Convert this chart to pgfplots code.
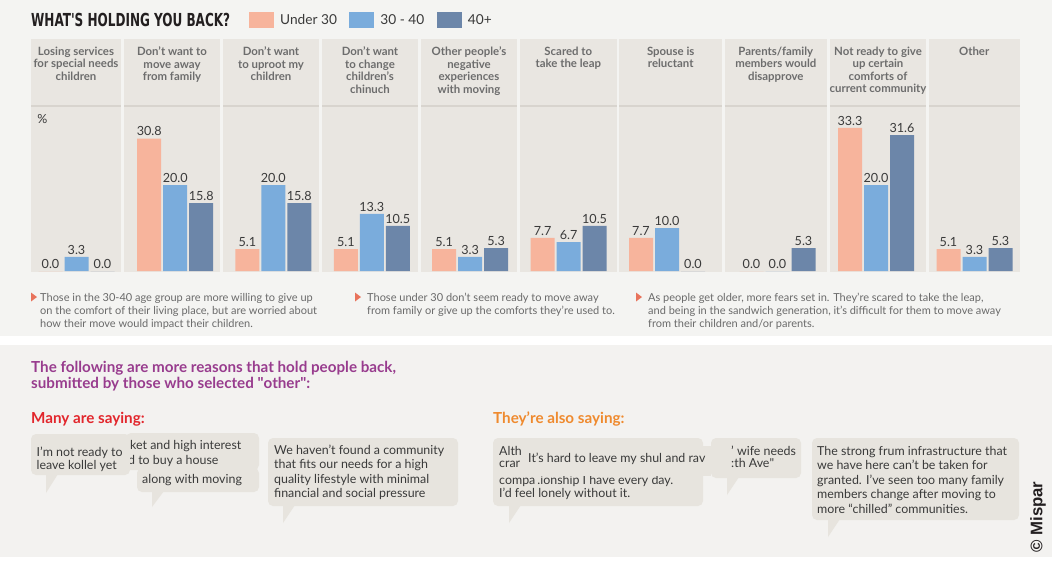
\documentclass[border=0pt]{standalone}
\usepackage{pgfplots}
\pgfplotsset{compat=1.18}
\usepackage{graphicx}
\usepackage{fontspec}
\setmainfont{Lato}
\newfontfamily\titlefont{DejaVu Sans Condensed}
\newfontfamily\mispfont{Liberation Sans}
\newcommand\fs[2]{\fontsize{#1}{#2}\selectfont}
\definecolor{topbg}{HTML}{F4F4F2}
\definecolor{botbg}{HTML}{F3F2F0}
\definecolor{panelbg}{HTML}{E9E6E1}
\definecolor{sepline}{HTML}{D8D4CE}
\definecolor{cU}{HTML}{F7B49C}
\definecolor{cM}{HTML}{7AACDC}
\definecolor{cO}{HTML}{6C86A9}
\definecolor{hdr}{HTML}{6D6D6D}
\definecolor{lbl}{HTML}{3A3A3A}
\definecolor{notec}{HTML}{6A6A6A}
\definecolor{tri}{HTML}{E8735C}
\definecolor{purp}{HTML}{983C8E}
\definecolor{redh}{HTML}{E2262C}
\definecolor{orng}{HTML}{EF8A2E}
\definecolor{bub}{HTML}{E7E4DE}
\definecolor{bubtxt}{HTML}{3A3A3A}
\definecolor{titlec}{HTML}{231F20}
\newcommand\bubble[6]{%
  \fill[bub, rounded corners=5pt] (#1,#2) rectangle (#3,#4);
  \fill[bub] (#5,#4-1) -- (#5,#6) -- ({#5+12},#4-1) -- cycle;}
\newcommand\bubbox[4]{\fill[bub, rounded corners=5pt] (#1,#2) rectangle (#3,#4);}
\begin{document}
\begin{tikzpicture}[x=1pt,y=-1pt]
\useasboundingbox (0,0) rectangle (1052,563);
\fill[white] (0,0) rectangle (1052,563);
\fill[topbg] (0,0) rectangle (1052,336);
\fill[botbg] (0,345) rectangle (1052,557);
% panels
\foreach \a/\b in {31/121,124/220,223/319,322/418,421/517,520/616.7,619.4/722,724.6/827,829.8/926,929/1019.5}{
  \fill[panelbg] (\a,39) rectangle (\b,272);
  \draw[sepline,line width=1.5pt] (\a,106) -- (\b,106);
}
% title
\node[anchor=west, inner sep=0pt, text=titlec] at (31,20) {\resizebox{199pt}{13.3pt}{\titlefont\bfseries WHAT'S HOLDING YOU BACK?}};
% headers
\begin{scope}[every node/.style={anchor=north, align=center, inner sep=0pt, text=hdr, font=\fs{11.4}{12.6}\bfseries}]
\node at (76,46.5) {Losing services\\for special needs\\children};
\node at (172,46.5) {Don't want to\\move away\\from family};
\node at (271,46.5) {Don't want\\to uproot my\\children};
\node at (370,46.5) {Don't want\\to change\\children's\\chinuch};
\node at (469,46.5) {Other people's\\negative\\experiences\\with moving};
\node at (568.3,46.5) {Scared to\\take the leap};
\node at (670.7,46.5) {Spouse is\\reluctant};
\node at (775.8,46.5) {Parents/family\\members would\\disapprove};
\node at (878,46.5) {Not ready to give\\up certain\\comforts of\\current community};
\node at (974.2,46.5) {Other};
\end{scope}
\node[text=lbl, font=\fs{12.5}{12}, inner sep=0pt] at (42.5,119.5) {\%};
\coordinate (sw) at (31,271);
\begin{axis}[
  at={(sw)}, anchor=south west,
  scale only axis, width=989pt, height=164pt,
  xmin=31, xmax=1020, ymin=0, ymax=38.14,
  axis lines=none, xtick=\empty, ytick=\empty, clip=false,
  ybar=2pt, bar width=24pt,
  nodes near coords={\pgfmathprintnumber[fixed,fixed zerofill,precision=1,assume math mode=true]{\pgfplotspointmeta}},
  every node near coord/.append style={font=\fs{12.6}{12}, text=lbl, inner ysep=2.5pt, inner xsep=0pt},
  legend columns=3,
  legend image code/.code={\fill[#1] (0pt,-7.7pt) rectangle (25pt,7.7pt);},
  legend style={at={(rel axis cs:0.2204,1.5305)}, anchor=west, draw=none, fill=none, inner sep=0pt,
     font=\fs{13.7}{13}, text=lbl,
     nodes={inner xsep=6pt, inner ysep=0pt},
     /tikz/every even column/.append style={column sep=6.5pt}},
]
\addplot[fill=cU, draw=none] coordinates {(76.5,0) (175.2,30.8) (273.3,5.1) (371.8,5.1) (470.2,5.1) (568.6,7.7) (667,7.7) (777.5,0) (876,33.3) (974.5,5.1)};
\addplot[fill=cM, draw=none] coordinates {(76.5,3.3) (175.2,20.0) (273.3,20.0) (371.8,13.3) (470.2,3.3) (568.6,6.7) (667,10.0) (777.5,0) (876,20.0) (974.5,3.3)};
\addplot[fill=cO, draw=none] coordinates {(76.5,0) (175.2,15.8) (273.3,15.8) (371.8,10.5) (470.2,5.3) (568.6,10.5) (667,0) (777.5,5.3) (876,31.6) (974.5,5.3)};
\legend{Under 30,30 - 40,40+}
\end{axis}
% notes
\fill[tri] (31,292.5) -- (37,297) -- (31,301.5) -- cycle;
\fill[tri] (355,292.5) -- (361,297) -- (355,301.5) -- cycle;
\fill[tri] (636,292.5) -- (642,297) -- (636,301.5) -- cycle;
\begin{scope}[every node/.style={anchor=base west, inner sep=0pt, text=notec, font=\fs{11}{11}}]
\node at (40,301) {Those in the 30-40 age group are more willing to give up};
\node at (40,314) {on the comfort of their living place, but are worried about};
\node at (40,327) {how their move would impact their children.};
\node at (367,301) {Those under 30 don't seem ready to move away};
\node at (367,314) {from family or give up the comforts they're used to.};
\node at (648,301) {As people get older, more fears set in. They're scared to take the leap,};
\node at (648,314) {and being in the sandwich generation, it's difficult for them to move away};
\node at (648,327) {from their children and/or parents.};
\end{scope}
% bottom headings
\begin{scope}[every node/.style={anchor=base west, inner sep=0pt, font=\fs{15.2}{16}\bfseries}]
\node[text=purp] at (31,372) {The following are more reasons that hold people back,};
\node[text=purp] at (31,388) {submitted by those who selected \textquotedbl other\textquotedbl:};
\node[text=redh] at (31,423.5) {Many are saying:};
\node[text=orng] at (493,423.5) {They're also saying:};
\end{scope}
% bubbles
\begin{scope}[every node/.style={anchor=base west, inner sep=0pt, text=bubtxt, font=\fs{12.4}{14}}]
\bubbox{126}{433}{259}{470}
\node at (130,449) {ket and high interest};
\node at (128,464) {d to buy a house};
\bubble{31}{434}{130}{475}{46}{493}
\node at (36.5,456) {I'm not ready to};
\node at (36.5,469.5) {leave kollel yet};
\bubble{137}{468}{259}{492}{152}{507}
\node at (142,483) {along with moving};
\bubble{268}{438}{458}{506}{283}{523}
\node at (274,454) {We haven't found a community};
\node at (274,468.5) {that fits our needs for a high};
\node at (274,483) {quality lifestyle with minimal};
\node at (274,497.5) {financial and social pressure};
\bubble{493}{438}{703}{506}{509}{523}
\node at (499,455) {Alth};
\node at (499,467) {crar};
\node at (499,484) {compa\,.ionship I have every day.};
\node at (499,497.5) {I'd feel lonely without it.};
\fill[bub] (523,446) rectangle (711,476);
\node at (528,462) {It's hard to leave my shul and rav};
\bubble{711}{438}{801}{478}{727}{495}
\node at (731,455) {' wife needs};
\node at (731,467) {:th Ave\textquotedbl};
\bubble{812}{438}{1019}{520}{828}{537}
\node at (817,455) {The strong frum infrastructure that};
\node at (817,469.5) {we have here can't be taken for};
\node at (817,484) {granted. I've seen too many family};
\node at (817,498.5) {members change after moving to};
\node at (817,513) {more “chilled” communities.};
\end{scope}
\node[rotate=90, inner sep=0pt, text=titlec] at (1038,517) {\resizebox{71pt}{!}{\mispfont\bfseries © Mispar}};
\end{tikzpicture}
\end{document}
